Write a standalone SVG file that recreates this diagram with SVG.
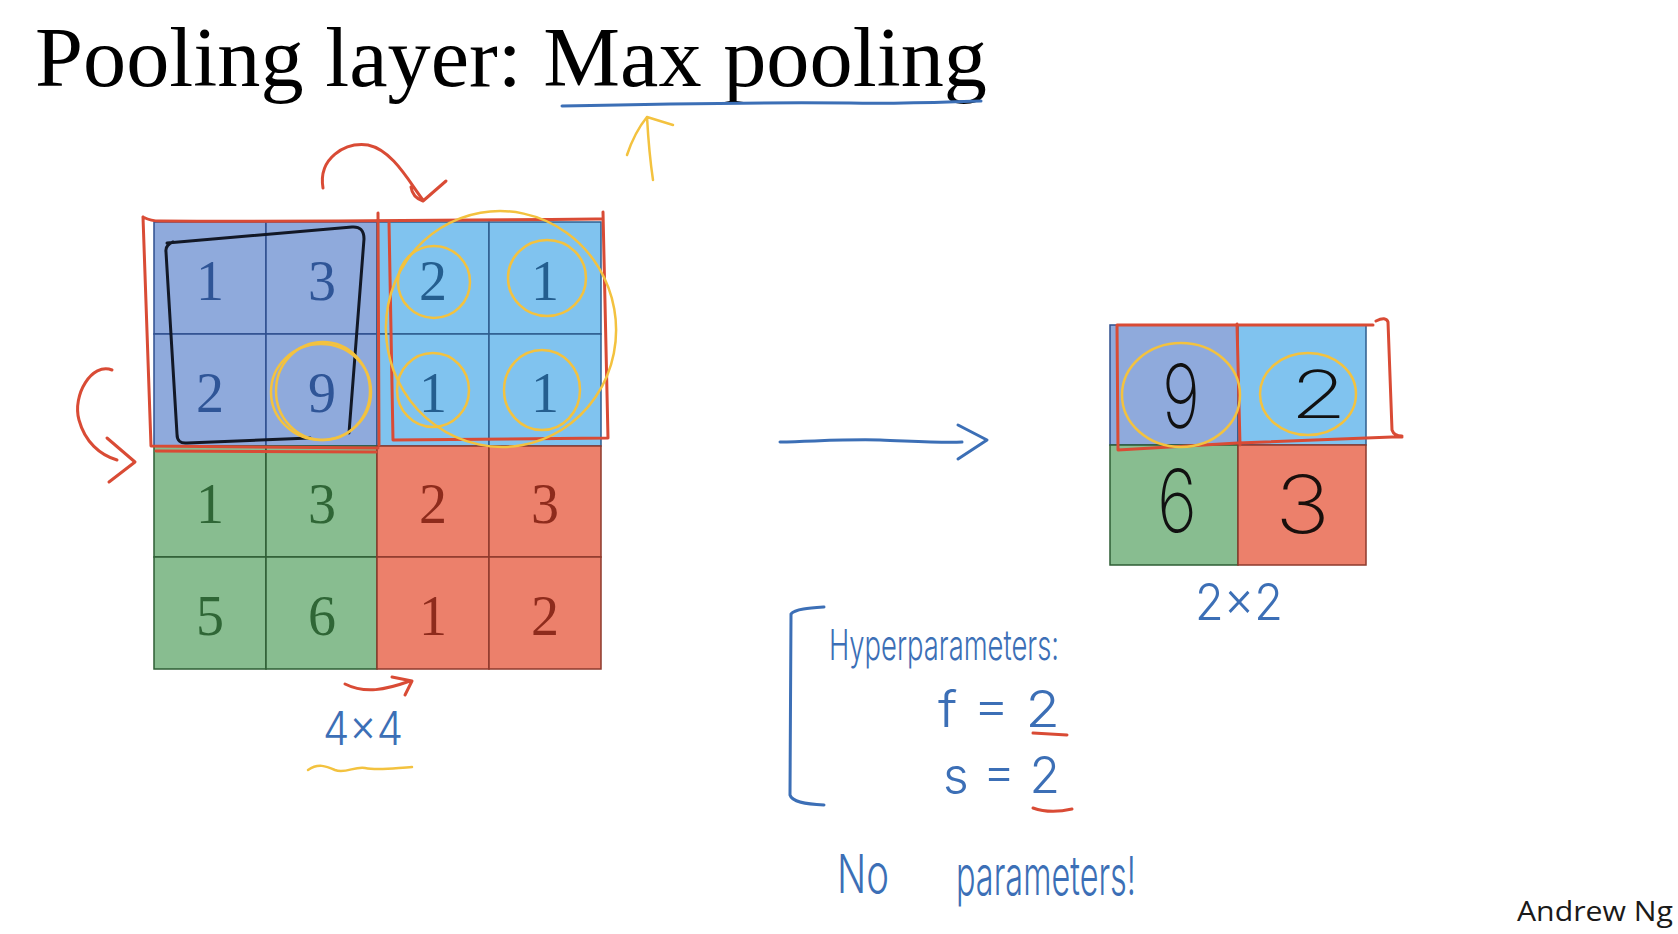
<svg xmlns="http://www.w3.org/2000/svg" width="1678" height="934" viewBox="0 0 1678 934">
<style>
.num{font-family:"Liberation Serif","Times New Roman",serif;font-size:56px;text-anchor:middle}
.hand{font-family:Inter,"Liberation Sans",sans-serif;font-weight:300}
.thin{font-weight:200}
.red{fill:none;stroke:#D94B35;stroke-width:3;stroke-linecap:round;stroke-linejoin:round}
.yel{fill:none;stroke:#F3C23F;stroke-width:2.5;stroke-linecap:round;stroke-linejoin:round}
.blu{fill:none;stroke:#3C6FB6;stroke-width:3;stroke-linecap:round;stroke-linejoin:round}
.blk{fill:none;stroke:#121826;stroke-width:3;stroke-linecap:round;stroke-linejoin:round}
.tl{fill:#8FAADC;stroke:#2F4F8F;stroke-width:1.5}
.tr{fill:#80C3EF;stroke:#2E5E8E;stroke-width:1.5}
.gr{fill:#88BD90;stroke:#2E5E35;stroke-width:1.5}
.rd{fill:#EC806B;stroke:#8E3A2C;stroke-width:1.5}
.ttl{fill:#2F5597}.ttr{fill:#245E8F}.tgr{fill:#2F6636}.trd{fill:#8E2B1C}
</style>
<rect width="1678" height="934" fill="#ffffff"/>

<g id="title">
<text x="35" y="86" font-family="Liberation Serif, Times New Roman, serif" font-size="84" fill="#000" textLength="952" lengthAdjust="spacingAndGlyphs">Pooling layer: Max pooling</text>
<path class="blu" d="M562,106 C650,104 750,102 850,103 C920,104 960,101 981,101"/>
</g>

<g id="input-grid">
<rect class="tl" x="154" y="222" width="112" height="112"/>
<rect class="tl" x="266" y="222" width="111" height="112"/>
<rect class="tl" x="154" y="334" width="112" height="112"/>
<rect class="tl" x="266" y="334" width="111" height="112"/>
<rect class="tr" x="377" y="222" width="112" height="112"/>
<rect class="tr" x="489" y="222" width="112" height="112"/>
<rect class="tr" x="377" y="334" width="112" height="112"/>
<rect class="tr" x="489" y="334" width="112" height="112"/>
<rect class="gr" x="154" y="446" width="112" height="111"/>
<rect class="gr" x="266" y="446" width="111" height="111"/>
<rect class="gr" x="154" y="557" width="112" height="112"/>
<rect class="gr" x="266" y="557" width="111" height="112"/>
<rect class="rd" x="377" y="446" width="112" height="111"/>
<rect class="rd" x="489" y="446" width="112" height="111"/>
<rect class="rd" x="377" y="557" width="112" height="112"/>
<rect class="rd" x="489" y="557" width="112" height="112"/>
<text class="num ttl" x="210" y="300">1</text>
<text class="num ttl" x="322" y="300">3</text>
<text class="num ttr" x="433" y="300">2</text>
<text class="num ttr" x="545" y="300">1</text>
<text class="num ttl" x="210" y="412">2</text>
<text class="num ttl" x="322" y="412">9</text>
<text class="num ttr" x="433" y="412">1</text>
<text class="num ttr" x="545" y="412">1</text>
<text class="num tgr" x="210" y="523">1</text>
<text class="num tgr" x="322" y="523">3</text>
<text class="num trd" x="433" y="523">2</text>
<text class="num trd" x="545" y="523">3</text>
<text class="num tgr" x="210" y="635">5</text>
<text class="num tgr" x="322" y="635">6</text>
<text class="num trd" x="433" y="635">1</text>
<text class="num trd" x="545" y="635">2</text>
</g>

<g id="input-annotations">
<path class="red" d="M143,217 C147,219 150,221 160,221 C300,222 500,220 603,219 M143,217 L151,446 L378,448 M156,451 L376,452 M378,213 L379,445 M389,222 L393,440 L608,438 L603,212"/>
<path class="blk" d="M167,243 L352,227 Q364,226 364,239 L349,433 M310,438 L187,443 Q177,444 177,434 L166,252 Q165,245 173,242"/>
<ellipse class="yel" cx="321" cy="392" rx="50" ry="48"/>
<ellipse class="yel" cx="323" cy="391" rx="47" ry="49"/>
<ellipse class="yel" cx="501" cy="329" rx="115" ry="118" transform="rotate(-10 501 329)"/>
<ellipse class="yel" cx="434" cy="282" rx="36" ry="36"/>
<ellipse class="yel" cx="547" cy="278" rx="39" ry="38"/>
<ellipse class="yel" cx="433" cy="390" rx="36" ry="37"/>
<ellipse class="yel" cx="542" cy="390" rx="38" ry="40"/>
</g>

<g id="label-4x4">
<text class="hand" x="323" y="745" font-size="46" fill="#3C6FB6" textLength="80" lengthAdjust="spacingAndGlyphs">4x4</text>
<path class="yel" d="M308,770 C318,763 326,766 335,770 C345,774 355,766 365,768 C378,771 395,768 412,767"/>
</g>

<g id="output-grid">
<rect class="tl" x="1110" y="325" width="128" height="120"/>
<rect class="tr" x="1238" y="325" width="128" height="120"/>
<rect class="gr" x="1110" y="445" width="128" height="120"/>
<rect class="rd" x="1238" y="445" width="128" height="120"/>
<text class="hand thin" x="1162" y="428" font-size="88" fill="#111" textLength="38" lengthAdjust="spacingAndGlyphs">9</text>
<text class="hand thin" x="1290" y="418" font-size="66" fill="#111" textLength="57" lengthAdjust="spacingAndGlyphs">2</text>
<text class="hand thin" x="1157" y="532" font-size="87" fill="#111" textLength="40" lengthAdjust="spacingAndGlyphs">6</text>
<text class="hand thin" x="1275" y="533" font-size="80" fill="#1a0f0c" textLength="55" lengthAdjust="spacingAndGlyphs">3</text>
<path class="red" d="M1117,325 L1373,325 M1117,325 L1118,450 L1238,443 L1392,437 L1402,437 M1237,324 L1240,445 M1376,321 Q1386,316 1388,322 L1392,430 Q1394,436 1402,436"/>
<ellipse class="yel" cx="1181" cy="395" rx="59" ry="52"/>
<ellipse class="yel" cx="1308" cy="394" rx="48" ry="41"/>
</g>

<g id="label-2x2">
<text class="hand" x="1195" y="620" font-size="50" fill="#3C6FB6" textLength="88" lengthAdjust="spacingAndGlyphs">2x2</text>
</g>

<g id="hyperparameters">
<path class="blu" d="M824,607 C810,608 795,609 791,614 L790,795 C792,802 805,804 824,805"/>
<text class="hand" x="829" y="660" font-size="42" fill="#3C6FB6" textLength="230" lengthAdjust="spacingAndGlyphs">Hyperparameters:</text>
<text class="hand" x="938" y="727" font-size="50" fill="#3C6FB6" textLength="122" lengthAdjust="spacingAndGlyphs">f = 2</text>
<path class="red" d="M1033,733 L1067,735"/>
<text class="hand" x="943" y="793" font-size="50" fill="#3C6FB6" textLength="117" lengthAdjust="spacingAndGlyphs">s = 2</text>
<path class="red" d="M1033,808 Q1050,814 1072,809"/>
</g>

<g id="no-parameters">
<text class="hand" x="837" y="893" font-size="54" fill="#3C6FB6" textLength="52" lengthAdjust="spacingAndGlyphs">No</text>
<text class="hand" x="956" y="895" font-size="54" fill="#3C6FB6" textLength="180" lengthAdjust="spacingAndGlyphs">parameters!</text>
</g>

<g id="credit">
<text x="1517" y="921" font-family="Open Sans, Liberation Sans, sans-serif" font-size="27" fill="#1a1a1a" textLength="156" lengthAdjust="spacingAndGlyphs">Andrew Ng</text>
</g>

<g id="connectors">
<path class="blu" d="M780,442 C820,441 850,439 880,440 C910,441 940,443 962,442 M958,425 L987,440 L958,459"/>
<path class="yel" d="M653,180 C650,160 648,135 647,117 M627,155 C632,140 638,128 647,117 L673,125"/>
<path class="red" d="M323,188 C318,158 345,142 368,145 C392,150 408,180 423,200 M411,187 C412,194 417,199 423,201 L446,181"/>
<path class="red" d="M112,370 C92,362 72,395 79,420 C85,442 100,455 117,460 M107,438 L135,462 L109,482"/>
<path class="red" d="M345,684 C365,694 385,690 410,681 M392,677 L412,681 L405,695"/>
</g>
</svg>
